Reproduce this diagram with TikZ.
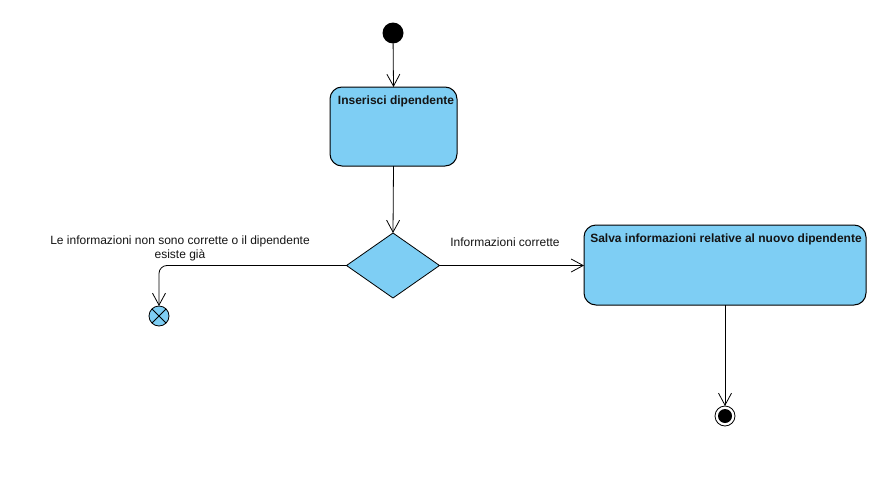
\documentclass[tikz,border=0pt]{standalone}
\usepackage{fontspec}
\setmainfont{Liberation Sans}
\usetikzlibrary{arrows.meta,shapes.geometric}
\definecolor{actblue}{RGB}{126,206,244}
\definecolor{txt}{RGB}{20,20,20}
\begin{document}
\begin{tikzpicture}[x=1pt,y=-1pt,
  font=\fontsize{12}{14}\selectfont,
  every node/.style={inner sep=0pt,outer sep=0pt},
  flow/.style={draw=black,line width=0.8pt,-{Straight Barb[length=12pt,width=13pt,line width=0.8pt]}},
  lbl/.style={text=txt,align=center}]
\useasboundingbox (0,0) rectangle (895,482);
\node[circle,fill=black,minimum size=21pt] (start) at (393,33) {};
\node[draw=black,line width=1pt,fill=actblue,rounded corners=12pt,minimum width=127pt,minimum height=79pt,anchor=north west] (a1) at (330,87) {};
\node[font=\fontsize{12}{14}\selectfont\bfseries,text=txt,anchor=north] (t1) at (396,96) {Inserisci dipendente};
\node[diamond,draw=black,line width=0.8pt,fill=actblue,minimum width=93pt,minimum height=65pt,aspect=1.43] (dec) at (393,265.5) {};
\node[draw=black,line width=1pt,fill=actblue,rounded corners=12pt,minimum width=282pt,minimum height=80pt,anchor=north west] (a2) at (584,225) {};
\node[font=\fontsize{12}{14}\selectfont\bfseries,text=txt,anchor=north] (t2) at (726,234) {Salva informazioni relative al nuovo dipendente};
\node[circle,draw=black,line width=0.8pt,fill=actblue,minimum size=20pt] (ff) at (159,316) {};
\draw[line width=0.8pt] (ff.north west) -- (ff.south east) (ff.north east) -- (ff.south west);
\node[circle,draw=black,line width=0.8pt,fill=white,minimum size=20pt] (fin) at (725,416) {};
\node[circle,fill=black,minimum size=14pt] (finc) at (fin) {};
\draw[flow] (start) -- (a1.north);
\draw[flow] (a1.south) -- (dec.north);
\draw[flow] (dec.east) -- (a2.west |- dec.east);
\draw[flow] (a2.south) -- (fin.north);
\draw[flow,rounded corners=8pt] (dec.west) -| (ff.north);
\node[lbl] (l1) at (505,242) {Informazioni corrette};
\node[lbl,anchor=north] (l2) at (180,236) {Le informazioni non sono corrette o il dipendente\\esiste già};
\end{tikzpicture}
\end{document}
